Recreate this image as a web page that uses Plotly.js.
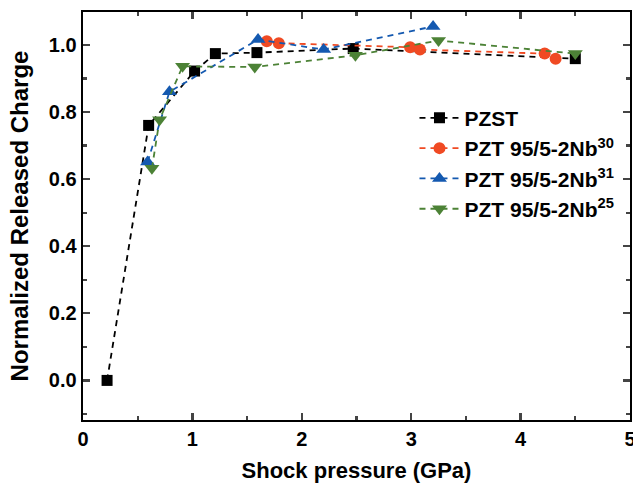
<!DOCTYPE html>
<html>
<head>
<meta charset="utf-8">
<script src="https://cdn.plot.ly/plotly-3.0.1.min.js"></script>
<style>html,body{margin:0;padding:0;background:#fff}#chart{width:633px;height:483px}</style>
</head>
<body>
<div id="chart"></div>
<script>
// Data
const seriesNames = ["PZST", "PZT 95/5-2Nb<sup>30</sup>", "PZT 95/5-2Nb<sup>31</sup>", "PZT 95/5-2Nb<sup>25</sup>"];
const pzstX = [0.22, 0.60, 1.02, 1.21, 1.59, 2.47, 4.50];
const pzstY = [0.00, 0.760, 0.922, 0.974, 0.977, 0.989, 0.959];
const nb30X = [1.68, 1.79, 2.99, 3.08, 4.22, 4.32];
const nb30Y = [1.011, 1.005, 0.993, 0.986, 0.974, 0.959];
const nb31X = [0.59, 0.79, 1.60, 2.20, 3.20];
const nb31Y = [0.651, 0.860, 1.016, 0.986, 1.055];
const nb25X = [0.63, 0.70, 0.91, 1.57, 2.49, 3.25, 4.50];
const nb25Y = [0.632, 0.777, 0.936, 0.934, 0.969, 1.013, 0.974];

const colors = ["#000000", "#f04a23", "#1459b0", "#4c8236"];
const symbols = ["square", "circle", "triangle-up", "triangle-down"];
const sizes = [11, 12, 13, 13];
const xs = [pzstX, nb30X, nb31X, nb25X];
const ys = [pzstY, nb30Y, nb31Y, nb25Y];

const traces = xs.map((x, i) => ({
  x: x, y: ys[i], name: seriesNames[i], type: "scatter", mode: "lines+markers",
  legendgroup: "g" + i,
  line: {color: colors[i], width: 1.8, dash: "6px,5px"},
  marker: {symbol: symbols[i], size: sizes[i], color: colors[i]}
}));

const fam = "Liberation Sans, Arial, sans-serif";
const tickF = {family: fam, size: 20, color: "#000", weight: "bold"};

const layout = {
  width: 633, height: 483,
  margin: {l: 83, r: 3, t: 12, b: 63},
  paper_bgcolor: "#fff", plot_bgcolor: "#fff",
  showlegend: true,
  legend: {x: 0.606, y: 0.79, xanchor: "left", yanchor: "top", bgcolor: "rgba(0,0,0,0)",
    font: {family: fam, size: 21, color: "#000", weight: "bold"},
    tracegroupgap: 0, traceorder: "grouped", itemwidth: 40},
  xaxis: {range: [0, 5], tick0: 0, dtick: 1, ticks: "inside", ticklen: 7, tickwidth: 2.2,
    showline: true, linewidth: 2.4, linecolor: "#000", mirror: "ticks", showgrid: false, zeroline: false,
    ticklabeloverflow: "allow",
    minor: {dtick: 0.5, ticks: "inside", ticklen: 4, tickwidth: 2.2, showgrid: false},
    tickfont: tickF, title: {text: "Shock pressure (GPa)", font: {family: fam, size: 22, color: "#000", weight: "bold"}, standoff: 14}},
  yaxis: {range: [-0.118, 1.098], tick0: 0, dtick: 0.2, tickformat: ".1f", ticks: "inside", ticklen: 7, tickwidth: 2.2,
    showline: true, linewidth: 2.4, linecolor: "#000", mirror: "ticks", showgrid: false, zeroline: false,
    minor: {dtick: 0.1, ticks: "inside", ticklen: 4, tickwidth: 2.2, showgrid: false},
    tickfont: tickF, title: {text: "Normalized Released Charge", font: {family: fam, size: 24, color: "#000", weight: "bold"}, standoff: 14}}
};

Plotly.newPlot("chart", traces, layout, {displayModeBar: false, staticPlot: true});
</script>
</body>
</html>
